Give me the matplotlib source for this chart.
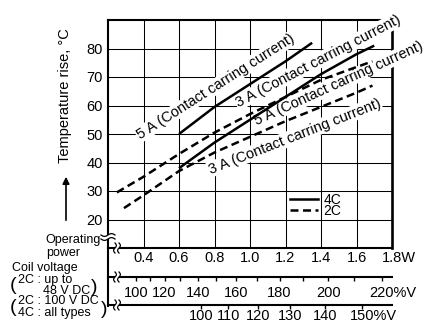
import matplotlib
matplotlib.use("Agg")
import matplotlib.pyplot as plt
from matplotlib.lines import Line2D
from matplotlib.patches import Rectangle
from matplotlib.transforms import ScaledTranslation
import numpy as np

plt.rcParams['font.family'] = ['Liberation Sans', 'DejaVu Sans']

# ---------------- data ----------------
power_5A_4C = [0.6, 0.8, 1.0, 1.2, 1.35]
temp_5A_4C = [50, 59.5, 67.5, 75.5, 82]
power_3A_4C = [0.6, 0.8, 1.0, 1.2, 1.4, 1.6, 1.7]
temp_3A_4C = [38, 47, 55, 63, 71, 78, 81]
power_5A_2C = [0.25, 0.4, 0.6, 0.8, 1.0, 1.2, 1.4, 1.6, 1.69]
temp_5A_2C = [29.5, 35, 43, 50.5, 57, 63, 69, 73.5, 75.5]
power_3A_2C = [0.29, 0.4, 0.6, 0.8, 1.0, 1.2, 1.4, 1.6, 1.69]
temp_3A_2C = [24, 28.5, 37, 43.5, 49, 54.5, 59.5, 64.5, 67]

power_ticks = [0.4, 0.6, 0.8, 1.0, 1.2, 1.4, 1.6, 1.8]
power_labels = ['0.4', '0.6', '0.8', '1.0', '1.2', '1.4', '1.6', '1.8W']
temp_ticks = [20, 30, 40, 50, 60, 70, 80]

# coil voltage scales (operating power = nominal power * (V%/100)^2)
nominal_power_2C_48V = 0.36
volt_ticks_a = [100, 120, 140, 160, 180, 200, 220]
volt_minor_a = [110, 130, 150, 170, 190, 210]
nominal_power_2C_100V_4C = 0.725
volt_ticks_b = [100, 110, 120, 130, 140, 150]

label_5A = "5 A (Contact carring current)"
label_3A = "3 A (Contact carring current)"

# ---------------- figure ----------------
W_px, H_px = 427, 323
fig = plt.figure(figsize=(4.27, 3.23), dpi=100)


def fx(px):
    return px / W_px


def fy(py):
    return 1 - py / H_px


L, R, T, B = 108, 392, 20, 248
ax = fig.add_axes([fx(L), fy(B), fx(R) - fx(L), fy(T) - fy(B)])
ax.set_xlim(0.2, 1.8)
ax.set_ylim(10, 90)
ax.set_xticks(power_ticks)
ax.set_xticklabels(power_labels)
ax.set_yticks(temp_ticks)
ax.tick_params(axis='x', length=0, pad=2.3, labelsize=10.5)
ax.tick_params(axis='y', length=0, pad=3.6, labelsize=10.5)
ax.set_axisbelow(True)
ax.grid(True, color='black', lw=0.75)
for s, lw in [('left', 1.5), ('right', 1.9), ('top', 1.5), ('bottom', 1.5)]:
    ax.spines[s].set_linewidth(lw)


def suffix_shift(label, suffix, size=10.5):
    widths = {'W': 0.944, '%': 0.889, 'V': 0.667}
    w = sum(widths[c] for c in suffix) * size / 72.0 / 2
    label.set_transform(label.get_transform() + ScaledTranslation(w, 0, fig.dpi_scale_trans))


suffix_shift(ax.get_xticklabels()[-1], 'W')

dash = (0, (3.2, 1.8))
lw_c = 1.8
ax.plot(power_5A_4C, temp_5A_4C, color='black', lw=lw_c, zorder=5, solid_capstyle='butt')
ax.plot(power_3A_4C, temp_3A_4C, color='black', lw=lw_c, zorder=5, solid_capstyle='butt')
ax.plot(power_5A_2C, temp_5A_2C, color='black', lw=lw_c, ls=dash, zorder=5)
ax.plot(power_3A_2C, temp_3A_2C, color='black', lw=lw_c, ls=dash, zorder=5)

bb = dict(facecolor='white', edgecolor='none', pad=0.6)
for (x, y, s, rot) in [(0.805, 66.6, label_5A, 32.5),
                       (1.383, 75.6, label_3A, 27.5),
                       (1.501, 67.8, label_5A, 24.5),
                       (1.251, 49.1, label_3A, 21.5)]:
    ax.text(x, y, s, rotation=rot, rotation_mode='anchor', ha='center', va='center',
            fontsize=10.5, bbox=bb, zorder=3)

handles = [Line2D([], [], color='black', lw=lw_c),
           Line2D([], [], color='black', lw=lw_c, ls=dash)]
ax.legend(handles, ['4C', '2C'], loc='upper left', bbox_to_anchor=((290 - L) / (R - L), (B - 193) / (B - T)),
          frameon=False, handlelength=2.0, handletextpad=0.4, labelspacing=-0.2,
          borderpad=0, borderaxespad=0, fontsize=10)

# ---------------- coil voltage scales ----------------
def volt_axis(py, nominal, majors, minors, pad, last_suffix):
    a = fig.add_axes([fx(L), fy(py), fx(R) - fx(L), 1.0 / H_px])
    a.set_xlim(0.2, 1.8)
    a.set_ylim(0, 1)
    a.patch.set_visible(False)
    for s in ['left', 'right', 'top']:
        a.spines[s].set_visible(False)
    a.spines['bottom'].set_linewidth(1.5)
    a.set_yticks([])
    pos = [nominal * (v / 100.0) ** 2 for v in majors]
    a.set_xticks(pos)
    labels = [str(v) for v in majors]
    labels[-1] = labels[-1] + last_suffix
    a.set_xticklabels(labels)
    if minors:
        a.set_xticks([nominal * (v / 100.0) ** 2 for v in minors], minor=True)
    a.tick_params(axis='x', which='both', direction='out', length=3, width=1, pad=pad, labelsize=10.5)
    suffix_shift(a.get_xticklabels()[-1], last_suffix)
    return a


volt_axis(277, nominal_power_2C_48V, volt_ticks_a, volt_minor_a, 3.6, '%V')
volt_axis(305, nominal_power_2C_100V_4C, volt_ticks_b, None, 0.0, '%V')

# left axis extension down to the last scale
fig.add_artist(Line2D([fx(L), fx(L)], [fy(B), fy(305.7)], color='black', lw=1.5, transform=fig.transFigure))

# break marks on horizontal scales
t = np.linspace(0, 1, 30)
for py in (B, 277, 305):
    fig.add_artist(Rectangle((fx(115), fy(py + 2)), fx(4), 4.0 / H_px, facecolor='white',
                             edgecolor='none', transform=fig.transFigure, zorder=3))
    for cx in (115, 119):
        xs = cx + 1.4 * np.sin(2 * np.pi * t)
        ys = py - 5 + 10 * t
        fig.add_artist(Line2D(fx(xs), fy(ys), color='black', lw=0.9, transform=fig.transFigure, zorder=4))

# break mark on the vertical axis
fig.add_artist(Rectangle((fx(L - 2), fy(239)), fx(4), 4.0 / H_px, facecolor='white',
                         edgecolor='none', transform=fig.transFigure, zorder=3))
for cy in (235, 239):
    xs = 101 + 14 * t
    ys = cy + 1.4 * np.sin(2 * np.pi * t)
    fig.add_artist(Line2D(fx(xs), fy(ys), color='black', lw=0.9, transform=fig.transFigure, zorder=4))

# ---------------- axis titles ----------------
fig.text(fx(65), fy(95.5), "Temperature rise, °C", rotation=90, ha='center', va='center', fontsize=10.5)
ax.annotate('', xy=(fx(66), fy(174)), xytext=(fx(66), fy(223)), xycoords='figure fraction',
            arrowprops=dict(arrowstyle='-|>', color='black', lw=1.2, mutation_scale=10))

fs = 9
fig.text(fx(101), fy(240), "Operating", ha='right', va='center', fontsize=fs)
fig.text(fx(63), fy(253), "power", ha='center', va='center', fontsize=fs)
fig.text(fx(12), fy(268), "Coil voltage", ha='left', va='center', fontsize=fs)
fig.text(fx(10), fy(285), "(", ha='left', va='center', fontsize=14)
fig.text(fx(18), fy(280), "2C : up to", ha='left', va='center', fontsize=fs)
fig.text(fx(43), fy(291), "48 V DC", ha='left', va='center', fontsize=fs)
fig.text(fx(91), fy(288), ")", ha='left', va='center', fontsize=14)
fig.text(fx(10), fy(308), "(", ha='left', va='center', fontsize=14)
fig.text(fx(18), fy(301), "2C : 100 V DC", ha='left', va='center', fontsize=fs)
fig.text(fx(18), fy(313), "4C : all types", ha='left', va='center', fontsize=fs)
fig.text(fx(101), fy(310), ")", ha='left', va='center', fontsize=14)

fig.savefig("out.png", dpi=100)
